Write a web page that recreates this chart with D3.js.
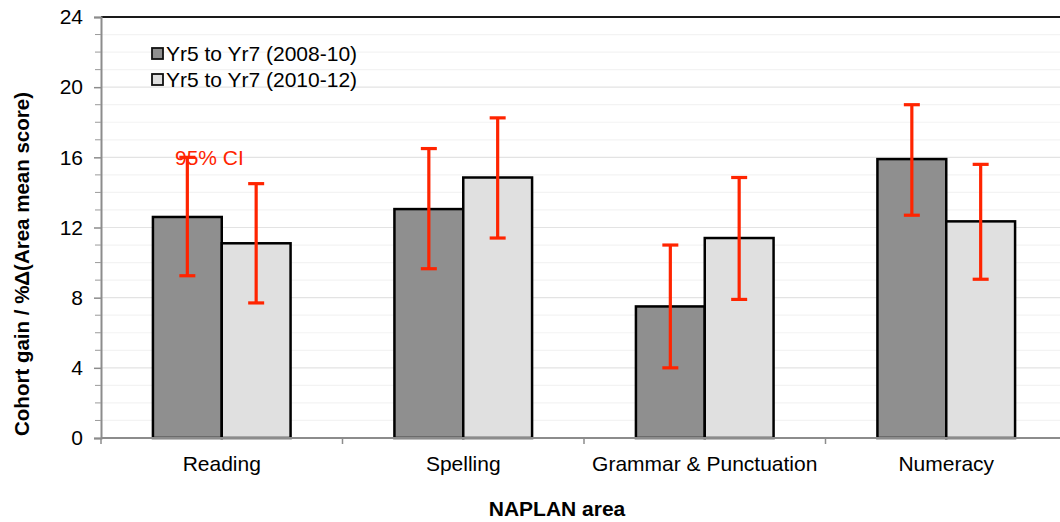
<!DOCTYPE html>
<html><head><meta charset="utf-8">
<script src="https://cdn.jsdelivr.net/npm/d3@7"></script>
<style>body{margin:0;background:#fff}svg{display:block;font-family:"Liberation Sans",Arial,sans-serif}</style>
</head><body><svg id="c" width="1060" height="522"></svg>
<script>
const categories = ["Reading", "Spelling", "Grammar & Punctuation", "Numeracy"];
const seriesNames = ["Yr5 to Yr7 (2008-10)", "Yr5 to Yr7 (2010-12)"];
const values2008 = [12.6, 13.05, 7.5, 15.9];
const values2010 = [11.1, 14.85, 11.4, 12.35];
const ciLow2008 = [9.25, 9.65, 4.0, 12.7];
const ciHigh2008 = [16.0, 16.5, 11.0, 19.0];
const ciLow2010 = [7.7, 11.4, 7.9, 9.05];
const ciHigh2010 = [14.5, 18.25, 14.85, 15.6];
const yTicks = [0, 4, 8, 12, 16, 20, 24];

const svg = d3.select("#c");
const m = {l: 101, t: 17, r: 1067, b: 438};
const x = d3.scaleBand().domain(categories).range([m.l, m.r]);
const y = d3.scaleLinear().domain([0, 24]).range([m.b, m.t]);
const colors = ["#8f8f8f", "#e0e0e0"];
const barW = x.bandwidth() * 0.285;
const FS = 21;

// minor gridlines
const minor = d3.range(1, 24);
svg.append("g").selectAll("line").data(minor).join("line")
  .attr("x1", m.l).attr("x2", m.r).attr("y1", d => y(d)).attr("y2", d => y(d))
  .attr("stroke", d => d % 4 === 0 ? "#e3e3e3" : "#f3f3f3").attr("stroke-width", 1.2);

// top border
svg.append("line").attr("x1", m.l).attr("x2", m.r).attr("y1", y(24)).attr("y2", y(24))
  .attr("stroke", "#1a1a1a").attr("stroke-width", 2);

// y axis
const yAxis = svg.append("g").attr("transform", `translate(${m.l},0)`)
  .call(d3.axisLeft(y).tickValues(yTicks).tickSize(7).tickPadding(11).tickFormat(d3.format("d")));
yAxis.select(".domain").attr("stroke", "#8c8c8c").attr("stroke-width", 2);
yAxis.selectAll(".tick line").attr("stroke", "#8c8c8c").attr("stroke-width", 1.5);
yAxis.selectAll("text").attr("font-size", FS).attr("fill", "#000").attr("font-family", "Liberation Sans, Arial, sans-serif");
// minor ticks
svg.append("g").selectAll("line").data(minor.filter(d => d % 4 !== 0)).join("line")
  .attr("x1", m.l - 6).attr("x2", m.l).attr("y1", d => y(d)).attr("y2", d => y(d))
  .attr("stroke", "#9a9a9a").attr("stroke-width", 1);

// bars
const groups = [
  {vals: values2008, lo: ciLow2008, hi: ciHigh2008, off: -barW},
  {vals: values2010, lo: ciLow2010, hi: ciHigh2010, off: 0}
];
groups.forEach((g, si) => {
  svg.append("g").selectAll("rect").data(categories).join("rect")
    .attr("x", (c) => x(c) + x.bandwidth() / 2 + g.off)
    .attr("y", (c, i) => y(g.vals[i]))
    .attr("width", barW)
    .attr("height", (c, i) => y(0) - y(g.vals[i]))
    .attr("fill", colors[si]).attr("stroke", "#000").attr("stroke-width", 2.5);
});

// x axis
const xAxisG = svg.append("g");
xAxisG.append("line").attr("x1", m.l).attr("x2", m.r).attr("y1", m.b).attr("y2", m.b)
  .attr("stroke", "#8c8c8c").attr("stroke-width", 2);
const bounds = categories.map(c => x(c)).concat([m.r]);
xAxisG.selectAll("line.t").data(bounds).join("line").attr("class", "t")
  .attr("x1", d => d).attr("x2", d => d).attr("y1", m.b).attr("y2", m.b + 6)
  .attr("stroke", "#8c8c8c").attr("stroke-width", 1.5);
xAxisG.selectAll("text").data(categories).join("text")
  .attr("x", c => x(c) + x.bandwidth() / 2).attr("y", 471)
  .attr("text-anchor", "middle").attr("font-size", FS).text(c => c);

// error bars
groups.forEach((g) => {
  const eg = svg.append("g").attr("stroke", "#ff2400").attr("stroke-width", 3.2);
  categories.forEach((c, i) => {
    const cx = x(c) + x.bandwidth() / 2 + g.off + barW / 2;
    eg.append("line").attr("x1", cx).attr("x2", cx).attr("y1", y(g.lo[i])).attr("y2", y(g.hi[i]));
    [g.lo[i], g.hi[i]].forEach(v => eg.append("line")
      .attr("x1", cx - 8).attr("x2", cx + 8).attr("y1", y(v)).attr("y2", y(v)));
  });
});

// CI annotation
svg.append("text").attr("x", 175).attr("y", 165).attr("font-size", FS)
  .attr("fill", "#ff2400").text("95% CI");

// legend
const lg = svg.append("g");
seriesNames.forEach((s, i) => {
  const yy = 54 + i * 26;
  lg.append("rect").attr("x", 152).attr("y", yy - 6).attr("width", 11).attr("height", 11)
    .attr("fill", colors[i]).attr("stroke", "#111").attr("stroke-width", 1.8);
  lg.append("text").attr("x", 166).attr("y", yy + 7).attr("font-size", FS).text(s);
});

// axis titles
svg.append("text").attr("transform", "translate(29,264) rotate(-90)")
  .attr("text-anchor", "middle").attr("font-size", 20.5).attr("font-weight", "bold")
  .text("Cohort gain / %Δ(Area mean score)");
svg.append("text").attr("x", 557).attr("y", 516).attr("text-anchor", "middle")
  .attr("font-size", 21).attr("font-weight", "bold").text("NAPLAN area");
</script></body></html>
